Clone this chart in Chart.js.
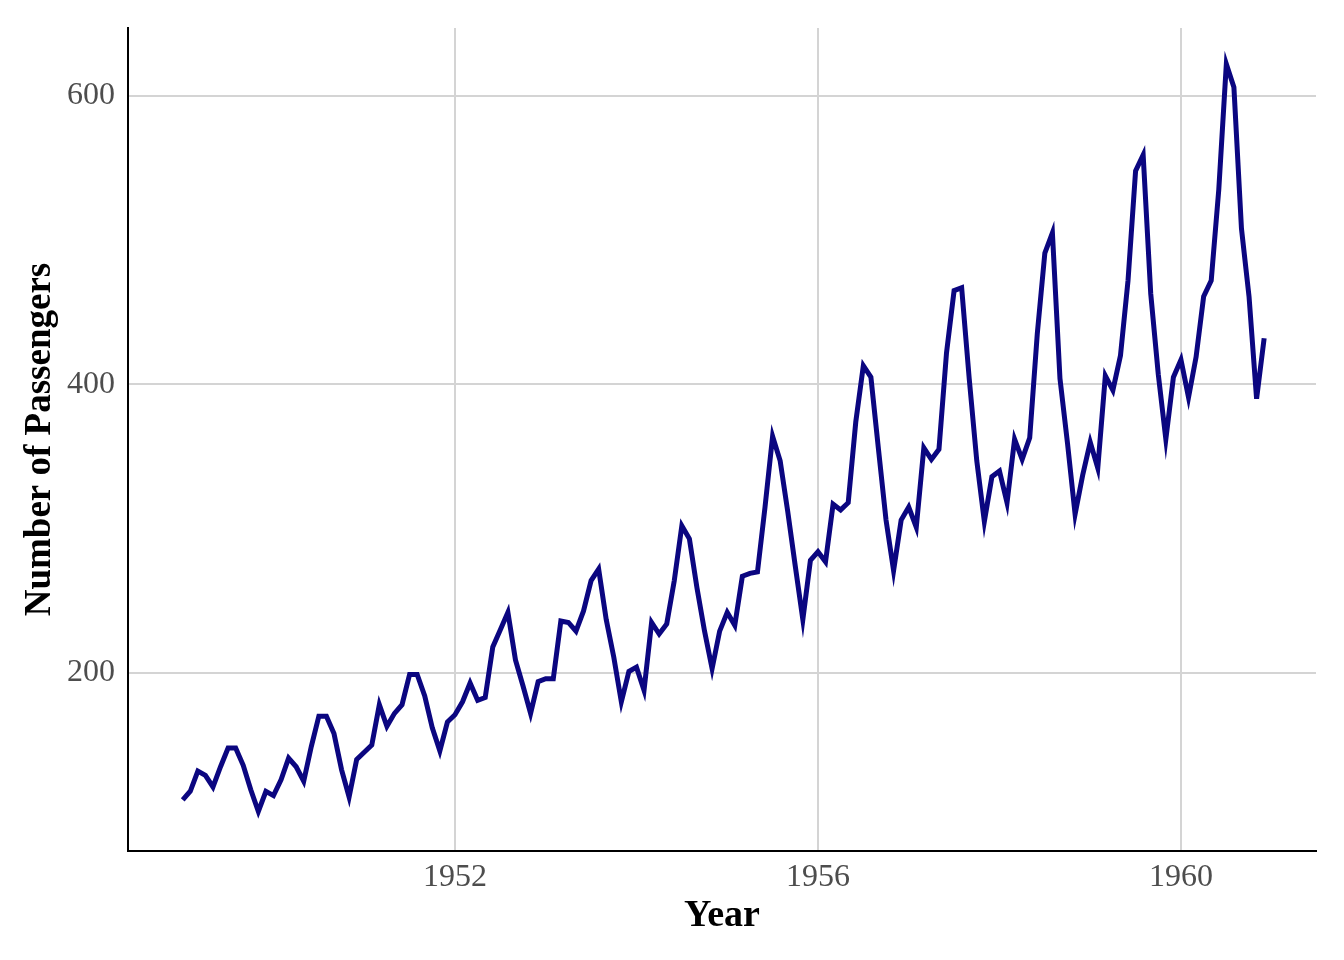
<!DOCTYPE html>
<html>
<head>
<meta charset="utf-8">
<script src="https://cdn.jsdelivr.net/npm/chart.js@4"></script>
<style>
  html, body { margin: 0; padding: 0; background: #fff; }
  #wrap { width: 1344px; height: 960px; }
</style>
</head>
<body>
<div id="wrap"><canvas id="passengerChart" width="1344" height="960"></canvas></div>
<script>
// monthly airline passengers (thousands), Jan 1949 - Dec 1960
const years = [1949, 1950, 1951, 1952, 1953, 1954, 1955, 1956, 1957, 1958, 1959, 1960];
const passengers = [
    112, 118, 132, 129, 121, 135, 148, 148, 136, 119, 104, 118,
    115, 126, 141, 135, 125, 149, 170, 170, 158, 133, 114, 140,
    145, 150, 178, 163, 172, 178, 199, 199, 184, 162, 146, 166,
    171, 180, 193, 181, 183, 218, 230, 242, 209, 191, 172, 194,
    196, 196, 236, 235, 229, 243, 264, 272, 237, 211, 180, 201,
    204, 188, 235, 227, 234, 264, 302, 293, 259, 229, 203, 229,
    242, 233, 267, 269, 270, 315, 364, 347, 312, 274, 237, 278,
    284, 277, 317, 313, 318, 374, 413, 405, 355, 306, 271, 306,
    315, 301, 356, 348, 355, 422, 465, 467, 404, 347, 305, 336,
    340, 318, 362, 348, 363, 435, 491, 505, 404, 359, 310, 337,
    360, 342, 406, 396, 420, 472, 548, 559, 463, 407, 362, 405,
    417, 391, 419, 461, 472, 535, 622, 606, 508, 461, 390, 432
];
const xTicks = [1952, 1956, 1960];
const yTicks = [200, 400, 600];

const points = passengers.map((v, i) => ({ x: years[Math.floor(i / 12)] + (i % 12) / 12, y: v }));

const serif = "'Liberation Serif', 'DejaVu Serif', serif";
const gridColor = "#d4d4d4";

new Chart(document.getElementById("passengerChart").getContext("2d"), {
    type: "line",
    data: {
        datasets: [{
            data: points,
            borderColor: "#0b0680",
            borderWidth: 5,
            pointRadius: 0,
            tension: 0,
            fill: false
        }]
    },
    options: {
        responsive: false,
        animation: false,
        layout: { padding: { top: 28, right: 28, left: 0, bottom: 0 } },
        plugins: { legend: { display: false }, tooltip: { enabled: false } },
        scales: {
            x: {
                type: "linear",
                min: 1948.397,
                max: 1961.488,
                afterFit: s => { s.height = 109; s.paddingLeft = 0; s.paddingRight = 0; },
                afterBuildTicks: s => { s.ticks = xTicks.map(v => ({ value: v })); },
                grid: { color: gridColor, lineWidth: 2, drawTicks: false },
                border: { display: true, color: "#000", width: 2 },
                ticks: {
                    padding: 7,
                    color: "#4d4d4d",
                    font: { family: serif, size: 32 },
                    callback: v => String(v)
                },
                title: {
                    display: true,
                    text: "Year",
                    color: "#000",
                    font: { family: serif, size: 38, weight: "bold" },
                    padding: { top: 0, bottom: 21 }
                }
            },
            y: {
                min: 76.6,
                max: 647,
                afterFit: s => { s.width = 128; s.paddingTop = 0; s.paddingBottom = 0; },
                afterBuildTicks: s => { s.ticks = yTicks.map(v => ({ value: v })); },
                grid: { color: gridColor, lineWidth: 2, drawTicks: false },
                border: { display: true, color: "#000", width: 2 },
                ticks: {
                    padding: 13,
                    color: "#4d4d4d",
                    font: { family: serif, size: 32 },
                    callback: v => String(v)
                },
                title: {
                    display: true,
                    text: "Number of Passengers",
                    color: "#000",
                    font: { family: serif, size: 37, weight: "bold" },
                    padding: { top: 18, bottom: 0 }
                }
            }
        }
    }
});
</script>
</body>
</html>
